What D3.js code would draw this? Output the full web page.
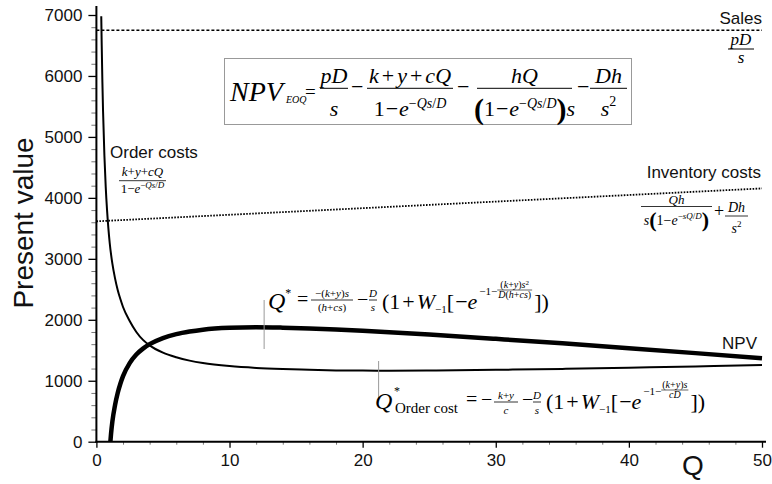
<!DOCTYPE html>
<html>
<head>
<meta charset="utf-8">
<script src="https://cdn.jsdelivr.net/npm/d3@7/dist/d3.min.js"></script>
<style>
  html, body { margin: 0; padding: 0; background: #fff; }
  svg { display: block; }
</style>
</head>
<body>
<svg id="chart" width="772" height="484"></svg>
<script>
// ---- data (order quantity Q vs. present value) ----
const orderQ    = [0.365, 0.4, 0.45, 0.5, 0.6, 0.7, 0.8, 0.9, 1, 1.2, 1.4, 1.6, 1.8, 2, 2.5, 3, 3.5, 4, 5, 6, 7, 8, 10, 12, 14, 16, 18, 20, 22, 25, 30, 35, 40, 45, 50];
const orderCost = [6980, 6500, 5900, 5420, 4700, 4180, 3800, 3500, 3260, 2920, 2680, 2490, 2340, 2210, 1980, 1800, 1670, 1580, 1460, 1385, 1330, 1290, 1240, 1210, 1192, 1180, 1170, 1166, 1165, 1168, 1179, 1194, 1213, 1234, 1257];

const npvQ = [1.05, 1.1, 1.2, 1.4, 1.6, 1.8, 2, 2.5, 3, 3.5, 4, 5, 6, 7, 8, 10, 12, 14, 16, 18, 20, 25, 30, 35, 40, 45, 50];
const npv  = [0, 130, 330, 600, 800, 950, 1075, 1290, 1430, 1527, 1600, 1700, 1764, 1807, 1838, 1869, 1878, 1871, 1858, 1840, 1819, 1757, 1687, 1614, 1535, 1453, 1368];

const invQ = [0, 10, 20, 30, 40, 50];
const inventoryCost = [3615, 3723, 3831, 3939, 4047, 4155];

const salesQ = [0, 50];
const sales  = [6750, 6750];

// optimal order quantities marked on the curves
const markQ = [12.6, 21.2];

const xTicks = [0, 10, 20, 30, 40, 50];
const yTicks = [0, 1000, 2000, 3000, 4000, 5000, 6000, 7000];

// ---- layout ----
const svg = d3.select("#chart");
const SANS = "'Liberation Sans', Arial, sans-serif";
const SERIF = "'Liberation Serif', 'Times New Roman', serif";

const x = d3.scaleLinear().domain([0, 50]).range([96.4, 762]);
const y = d3.scaleLinear().domain([0, 7000]).range([441.7, 15]);

// ---- axes ----
const yMinor = d3.range(0, 7001, 200).filter(v => v % 1000 !== 0);
const xMinor = d3.range(0, 51, 2).filter(v => v % 10 !== 0);

svg.append("g").attr("transform", `translate(${x(0)},0)`)
  .call(d3.axisLeft(y).tickValues(yMinor).tickSize(5).tickFormat(""))
  .call(g => g.select(".domain").remove())
  .call(g => g.selectAll("line").attr("stroke", "#777"));

svg.append("g").attr("transform", `translate(${x(0)},0)`)
  .call(d3.axisLeft(y).tickValues(yTicks).tickSize(8).tickPadding(6).tickFormat(d3.format("d")))
  .call(g => g.select(".domain").remove())
  .call(g => g.selectAll("line").attr("stroke", "#000").attr("stroke-width", 1.3))
  .call(g => g.selectAll("text").attr("font-family", SANS).attr("font-size", 17).attr("fill", "#111"));

svg.append("g").attr("transform", `translate(0,${y(0)})`)
  .call(d3.axisBottom(x).tickValues(xMinor).tickSize(3).tickFormat(""))
  .call(g => g.select(".domain").remove())
  .call(g => g.selectAll("line").attr("stroke", "#777"));

svg.append("g").attr("transform", `translate(0,${y(0)})`)
  .call(d3.axisBottom(x).tickValues(xTicks).tickSize(6).tickPadding(6))
  .call(g => g.select(".domain").remove())
  .call(g => g.selectAll("line").attr("stroke", "#000").attr("stroke-width", 1.3))
  .call(g => g.selectAll("text").attr("font-family", SANS).attr("font-size", 17).attr("fill", "#111"));

// axis lines
svg.append("line").attr("x1", x(0)).attr("x2", x(0)).attr("y1", 6).attr("y2", y(0) + 1)
  .attr("stroke", "#000").attr("stroke-width", 2);
svg.append("line").attr("x1", x(0) - 1).attr("x2", 766).attr("y1", y(0)).attr("y2", y(0))
  .attr("stroke", "#000").attr("stroke-width", 2);

// axis titles
svg.append("text").attr("transform", "translate(33,223) rotate(-90)")
  .attr("text-anchor", "middle").attr("font-family", SANS).attr("font-size", 28).attr("fill", "#111")
  .text("Present value");
svg.append("text").attr("x", 693).attr("y", 475).attr("text-anchor", "middle")
  .attr("font-family", SANS).attr("font-size", 28).attr("fill", "#111").text("Q");

// ---- curves ----
const line = d3.line().x(d => x(d[0])).y(d => y(d[1])).curve(d3.curveMonotoneX);

svg.append("path").datum(salesQ.map((q, i) => [q, sales[i]]))
  .attr("d", line).attr("fill", "none").attr("stroke", "#000")
  .attr("stroke-width", 1.6).attr("stroke-dasharray", "3,2");

svg.append("path").datum(invQ.map((q, i) => [q, inventoryCost[i]]))
  .attr("d", line).attr("fill", "none").attr("stroke", "#000")
  .attr("stroke-width", 1.8).attr("stroke-dasharray", "1.6,1.4");

svg.append("path").datum(orderQ.map((q, i) => [q, orderCost[i]]))
  .attr("d", line).attr("fill", "none").attr("stroke", "#000").attr("stroke-width", 2);

svg.append("path").datum(npvQ.map((q, i) => [q, npv[i]]))
  .attr("d", line).attr("fill", "none").attr("stroke", "#000").attr("stroke-width", 4.5);

// marker lines at the optimal quantities
svg.append("line").attr("x1", x(markQ[0])).attr("x2", x(markQ[0])).attr("y1", 300).attr("y2", 349)
  .attr("stroke", "#999").attr("stroke-width", 1);
svg.append("line").attr("x1", x(markQ[1])).attr("x2", x(markQ[1])).attr("y1", 361).attr("y2", 398)
  .attr("stroke", "#999").attr("stroke-width", 1);

// ---- text labels ----
function label(txt, px, py, anchor) {
  svg.append("text").attr("x", px).attr("y", py).attr("text-anchor", anchor || "start")
    .attr("font-family", SANS).attr("font-size", 17).attr("fill", "#111").text(txt);
}
label("Sales", 762, 24, "end");
label("Order costs", 110, 158);
label("Inventory costs", 761, 178, "end");
label("NPV", 757, 349, "end");

// ---- small typesetting helper for the formulas ----
function put(g, items, px, py) {
  for (const it of items) {
    if (it.at != null) px = it.at;
    px += it.dx || 0;
    if (it.frac) {
      const wn = span(it.num), wd = span(it.den);
      const w = it.w != null ? it.w : Math.max(wn, wd) + 2 * (it.pad != null ? it.pad : 1);
      put(g, it.num, px + (w - wn) / 2, py + it.ny);
      put(g, it.den, px + (w - wd) / 2, py + it.dn);
      g.append("line").attr("x1", px).attr("x2", px + w)
        .attr("y1", py + it.by).attr("y2", py + it.by)
        .attr("stroke", "#000").attr("stroke-width", it.bw || 1);
      px += w;
    } else {
      const t = g.append("text").attr("x", px).attr("y", py + (it.y || 0))
        .attr("font-family", SERIF).attr("font-size", it.f).attr("fill", "#000")
        .attr("font-style", it.i ? "italic" : "normal")
        .attr("font-weight", it.b ? "bold" : "normal")
        .text(it.s);
      px += t.node().getComputedTextLength() + (it.sp || 0);
    }
  }
  return px;
}
function span(items) {
  const tmp = svg.append("g");
  const w = put(tmp, items.map(d => Object.assign({}, d, { at: null })), 0, 0);
  tmp.remove();
  return w;
}
const I = (s, f, o) => Object.assign({ s, f, i: true }, o);
const R = (s, f, o) => Object.assign({ s, f, i: false }, o);
const expQsD = (f, yo, lead) => [R("−", f, { y: yo }), I(lead || "Qs", f, { y: yo }), R("/", f, { y: yo }), I("D", f, { y: yo })];

// NPV formula in a framed box
const box = svg.append("g");
box.append("rect").attr("x", 224.5).attr("y", 58.5).attr("width", 407).attr("height", 66)
  .attr("fill", "#fff").attr("stroke", "#999").attr("stroke-width", 1);
const F = 22, S = 14;
put(box, [
  I("NPV", 28, { at: 230 }),
  I("EOQ", 10, { at: 286, y: 2 }),
  R("=", 19, { at: 305, y: -3 }),
  { frac: true, at: 320, w: 28, by: -12.7, ny: -18, dn: 15, num: [I("p", F), I("D", F)], den: [I("s", F)] },
  R("−", 22, { at: 351, y: -7 }),
  { frac: true, at: 367, w: 86, by: -12.7, ny: -18, dn: 15,
    num: [I("k", F, { sp: 3 }), R("+", F, { sp: 3 }), I("y", F, { sp: 3 }), R("+", F, { sp: 3 }), I("c", F), I("Q", F)],
    den: [R("1", F, { sp: 1 }), R("−", F, { sp: 1 }), I("e", F), ...expQsD(S, -8.5)] },
  R("−", 22, { at: 457, y: -7 }),
  { frac: true, at: 477, w: 95, by: -12.7, ny: -18, dn: 15,
    num: [I("h", F), I("Q", F)],
    den: [R("(", 30, { b: true, y: 3 }), R("1", F, { sp: 1 }), R("−", F, { sp: 1 }), I("e", F), ...expQsD(S, -8.5),
          R(")", 30, { b: true, y: 3 }), I("s", F)] },
  R("−", 22, { at: 577, y: -7 }),
  { frac: true, at: 590, w: 37, by: -12.7, ny: -18, dn: 15,
    num: [I("D", F), I("h", F)], den: [I("s", F), R("2", S, { y: -10 })] }
], 0, 101);

const math = svg.append("g");

// sales fraction
put(math, [{ frac: true, at: 728, w: 26, by: 0, ny: -4, dn: 14, num: [I("p", 17), I("D", 17)], den: [I("s", 17)] }], 0, 49);

// order cost fraction
put(math, [{ frac: true, at: 119, w: 47, by: 0, ny: -5, dn: 12.5, bw: 0.8,
  num: [I("k", 13), R("+", 13), I("y", 13), R("+", 13), I("c", 13), I("Q", 13)],
  den: [R("1", 13), R("−", 13), I("e", 13), ...expQsD(9, -5)] }], 0, 180.7);

// inventory cost expression
put(math, [
  { frac: true, at: 641, w: 71, by: 0, ny: -2.5, dn: 18, bw: 0.8,
    num: [I("Q", 13), I("h", 13)],
    den: [I("s", 14), R("(", 22, { b: true, y: 2 }), R("1", 14), R("−", 14), I("e", 14), ...expQsD(9, -6, "sQ"), R(")", 22, { b: true, y: 2 })] },
  R("+", 18, { at: 714, y: 10 }),
  { frac: true, at: 725, w: 23, by: 9.5, ny: 5, dn: 26.5, bw: 0.8,
    num: [I("D", 14), I("h", 14)], den: [I("s", 14), R("2", 9, { y: -6 })] }
], 0, 206.5);

// optimal NPV order quantity
const M = 22, m = 11, t = 10;
put(math, [
  I("Q", 24, { at: 268 }),
  R("*", 12, { y: -12 }),
  R("=", 20, { at: 297, y: -3 }),
  { frac: true, at: 311, w: 42, by: -9, ny: -12, dn: 2, bw: 0.8,
    num: [R("−(", m), I("k", m), R("+", m), I("y", m), R(")", m), I("s", m)],
    den: [R("(", m), I("h", m), R("+", m), I("cs", m), R(")", m)] },
  R("−", 20, { at: 357, y: -3 }),
  { frac: true, at: 369, w: 8, by: -9, ny: -12, dn: 2, bw: 0.8, num: [I("D", m)], den: [I("s", m)] },
  R("(", M, { at: 382 }), R("1", M, { sp: 2 }), R("+", M, { sp: 2 }), I("W", M), R("−1", m, { y: 4 }),
  R("[", M, { sp: 1 }), R("−", M), I("e", M, { sp: 2 }),
  R("−1−", 11, { y: -14 }),
  { frac: true, by: -19, ny: -21, dn: -11, bw: 0.6,
    num: [R("(", t), I("k", t), R("+", t), I("y", t), R(")", t), I("s", t), R("2", 7, { y: -3 })],
    den: [I("D", t), R("(", t), I("h", t), R("+", t), I("cs", t), R(")", t)] },
  R("])", M, { dx: 2 })
], 0, 309);

// optimal order-cost quantity
put(math, [
  I("Q", 24, { at: 375 }),
  R("*", 12, { at: 394, y: -14 }),
  R("Order cost", 15, { at: 395, y: 4 }),
  R("=", 20, { at: 466, y: -3 }),
  R("−", 20, { at: 481, y: -3 }),
  { frac: true, at: 494, w: 24, by: -7, ny: -10, dn: 5, bw: 0.8,
    num: [I("k", m), R("+", m), I("y", m)], den: [I("c", m)] },
  R("−", 20, { at: 522, y: -3 }),
  { frac: true, at: 533, w: 8, by: -7, ny: -10, dn: 5, bw: 0.8, num: [I("D", m)], den: [I("s", m)] },
  R("(", M, { at: 546 }), R("1", M, { sp: 2 }), R("+", M, { sp: 2 }), I("W", M), R("−1", m, { y: 4 }),
  R("[", M, { sp: 1 }), R("−", M), I("e", M, { sp: 2 }),
  R("−1−", 11, { y: -14 }),
  { frac: true, by: -19, ny: -21, dn: -11, bw: 0.6,
    num: [R("(", t), I("k", t), R("+", t), I("y", t), R(")", t), I("s", t)],
    den: [I("cD", t)] },
  R("])", M, { dx: 2 })
], 0, 409);
</script>
</body>
</html>
